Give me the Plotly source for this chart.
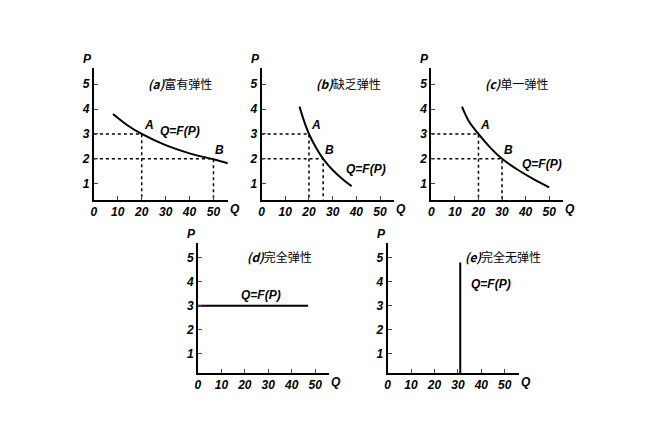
import plotly.graph_objects as go

# curve points (Q, P)
curve_a_q = [8, 14, 20, 30, 40, 50, 56]
curve_a_p = [3.8, 3.35, 3.0, 2.55, 2.22, 1.98, 1.82]
curve_b_q = [16, 18, 20, 23, 26, 30, 34, 38]
curve_b_p = [4.1, 3.5, 3.0, 2.45, 2.0, 1.55, 1.2, 0.9]
curve_c_q = [13, 16, 20, 25, 30, 36, 43, 50]
curve_c_p = [4.1, 3.5, 3.0, 2.45, 2.0, 1.6, 1.2, 0.85]
points_a = {"A": (20, 3), "B": (50, 2)}
points_b = {"A": (20, 3), "B": (26, 2)}
points_c = {"A": (20, 3), "B": (30, 2)}
flat_q = [0, 47]
flat_p = [3, 3]
vert_q = [31, 31]
vert_p = [0.2, 4.8]
titles = ["富有弹性", "缺乏弹性", "单一弹性", "完全弹性", "完全无弹性"]
letters = ["a", "b", "c", "d", "e"]

dx, dy = -0.015, 0.018
panels = [
    dict(x=[0.140, 0.342], y=[0.548, 0.846], yr=[0.35, 5.65]),
    dict(x=[0.393, 0.593], y=[0.548, 0.846], yr=[0.35, 5.65]),
    dict(x=[0.649, 0.848], y=[0.548, 0.846], yr=[0.35, 5.65]),
    dict(x=[0.297, 0.495], y=[0.156, 0.450], yr=[0.2, 5.6]),
    dict(x=[0.583, 0.781], y=[0.156, 0.450], yr=[0.2, 5.6]),
]
for p in panels:
    p["x"] = [v + dx for v in p["x"]]
    p["y"] = [v + dy for v in p["y"]]

fig = go.Figure()
tfont = dict(family="Liberation Sans", size=12, color="black", weight="bold", style="italic")
line = dict(color="black", width=2)
dash = dict(color="black", width=1.5, dash="dot")

for i, p in enumerate(panels):
    n = "" if i == 0 else str(i + 1)
    fig.layout["xaxis" + n] = dict(domain=p["x"], range=[0, 56], anchor="y" + n,
                                   tickvals=[0, 10, 20, 30, 40, 50], ticks="inside", ticklen=4,
                                   showline=True, linecolor="black", linewidth=2, showgrid=False,
                                   zeroline=False, tickfont=tfont, fixedrange=True)
    fig.layout["yaxis" + n] = dict(domain=p["y"], range=p["yr"], anchor="x" + n,
                                   tickvals=[1, 2, 3, 4, 5], ticks="inside", ticklen=4,
                                   showline=True, linecolor="black", linewidth=2, showgrid=False,
                                   zeroline=False, tickfont=tfont, fixedrange=True)
    xr = "x" + n
    yr = "y" + n
    fig.add_annotation(x=p["x"][0], y=p["y"][1], xref="paper", yref="paper", text="<b><i>P</i></b>",
                       showarrow=False, xanchor="right", yanchor="bottom", font=tfont)
    fig.add_annotation(x=p["x"][1], y=p["y"][0], xref="paper", yref="paper", text="<b><i>Q</i></b>",
                       showarrow=False, xanchor="left", yanchor="top", font=tfont)
    tx = 22 if i < 3 else (20 if i == 3 else 32)
    fig.add_annotation(x=tx, y=5.05, xref=xr, yref=yr, xanchor="left",
                       text="<b><i>(%s)</i></b>%s" % (letters[i], titles[i]), showarrow=False,
                       font=dict(family="Noto Sans CJK SC", size=12, color="black"))

curves = [(curve_a_q, curve_a_p, points_a), (curve_b_q, curve_b_p, points_b), (curve_c_q, curve_c_p, points_c)]
label_pos = [(36, 3.1), (44, 1.6), (47, 1.8)]
for i, (cq, cp, pts) in enumerate(curves):
    n = "" if i == 0 else str(i + 1)
    xr, yr = "x" + n, "y" + n
    for k, (q, pv) in pts.items():
        fig.add_trace(go.Scatter(x=[0, q, q], y=[pv, pv, 0.35], mode="lines", line=dash, xaxis=xr, yaxis=yr))
        fig.add_annotation(x=q, y=pv, xref=xr, yref=yr, text="<b><i>%s</i></b>" % k, showarrow=False,
                           xanchor="left", yanchor="bottom", font=tfont)
    fig.add_trace(go.Scatter(x=cq, y=cp, mode="lines", line=dict(line, shape="spline"), xaxis=xr, yaxis=yr))
    fig.add_annotation(x=label_pos[i][0], y=label_pos[i][1], xref=xr, yref=yr, text="<b><i>Q=F(P)</i></b>",
                       showarrow=False, font=tfont)

fig.add_trace(go.Scatter(x=flat_q, y=flat_p, mode="lines", line=line, xaxis="x4", yaxis="y4"))
fig.add_annotation(x=27, y=3.45, xref="x4", yref="y4", text="<b><i>Q=F(P)</i></b>", showarrow=False, font=tfont)
fig.add_trace(go.Scatter(x=vert_q, y=vert_p, mode="lines", line=line, xaxis="x5", yaxis="y5"))
fig.add_annotation(x=44, y=3.9, xref="x5", yref="y5", text="<b><i>Q=F(P)</i></b>", showarrow=False, font=tfont)

fig.update_layout(width=666, height=442, margin=dict(l=0, r=0, t=0, b=0), showlegend=False,
                  plot_bgcolor="white", paper_bgcolor="white")
fig.write_html("out.html")
